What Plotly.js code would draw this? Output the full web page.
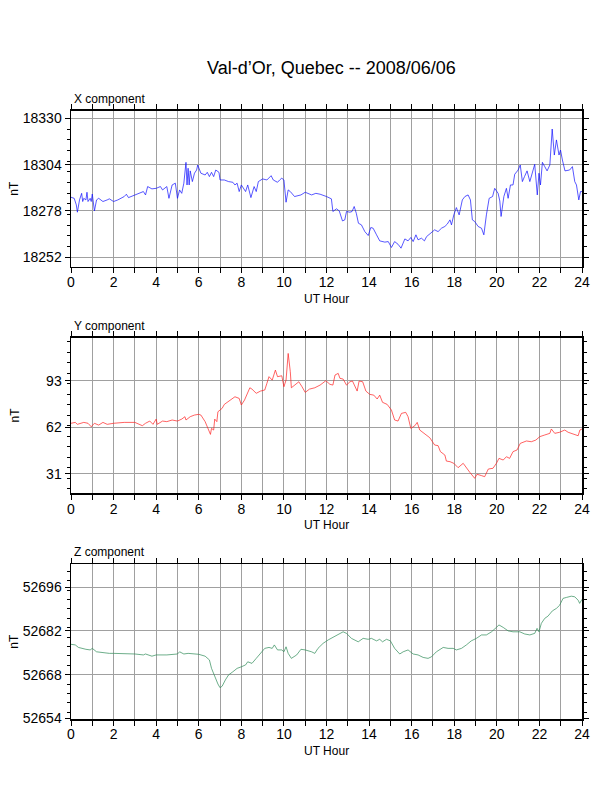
<!DOCTYPE html>
<html>
<head>
<meta charset="utf-8">
<script src="https://cdn.plot.ly/plotly-3.0.1.min.js"></script>
<style>
  body { margin: 0; background: #fff; }
  #plot { width: 612px; height: 792px; }
</style>
</head>
<body>
<div id="plot"></div>
<script>
// readings taken off the magnetogram (UT hour, nT)
const hoursX = [0.0,0.15,0.25,0.3,0.4,0.5,0.55,0.6,0.7,0.75,0.8,0.9,0.95,1.0,1.1,1.2,1.3,1.5,1.7,1.8,2.0,2.2,2.5,2.6,2.7,3.0,3.2,3.4,3.5,3.6,3.8,4.0,4.2,4.3,4.5,4.6,4.75,4.9,5.0,5.1,5.2,5.3,5.4,5.45,5.5,5.55,5.6,5.7,5.8,5.9,5.95,6.0,6.1,6.3,6.4,6.5,6.6,6.7,6.8,6.95,7.0,7.2,7.4,7.6,7.7,7.8,7.9,8.0,8.1,8.2,8.3,8.45,8.6,8.7,8.8,9.0,9.2,9.4,9.5,9.7,9.8,9.9,10.0,10.1,10.2,10.3,10.5,10.8,11.0,11.3,11.5,11.7,12.0,12.23,12.3,12.47,12.6,12.75,12.86,12.94,13.1,13.2,13.3,13.4,13.5,13.64,13.8,13.96,14.08,14.19,14.35,14.5,14.74,14.9,15.05,15.2,15.36,15.5,15.68,15.83,15.96,16.07,16.2,16.3,16.46,16.6,16.7,16.93,17.08,17.24,17.4,17.56,17.67,17.8,17.87,17.98,18.1,18.23,18.38,18.5,18.65,18.76,18.85,18.96,19.12,19.28,19.39,19.51,19.64,19.8,19.9,20.06,20.14,20.2,20.33,20.45,20.53,20.64,20.76,20.84,21.0,21.1,21.2,21.3,21.42,21.55,21.67,21.78,21.9,21.98,22.05,22.14,22.25,22.36,22.49,22.6,22.7,22.8,22.92,22.99,23.08,23.2,23.42,23.55,23.66,23.74,23.85,23.93,24.0];
const compX = [18285.7,18285.1,18281.4,18277.3,18284.2,18287.9,18283.3,18285.1,18284.2,18288.5,18283.3,18285.1,18283.3,18287.5,18278.0,18284.2,18285.1,18283.3,18284.2,18284.8,18283.3,18284.2,18286.1,18287.4,18285.5,18287.0,18287.9,18288.9,18287.0,18291.7,18290.4,18290.7,18291.7,18289.8,18291.7,18285.1,18292.6,18293.6,18285.1,18289.8,18287.9,18293.6,18305.3,18292.6,18302.0,18292.6,18300.5,18294.5,18299.2,18301.0,18303.8,18302.3,18299.2,18298.2,18299.7,18297.3,18299.7,18297.3,18301.0,18299.7,18295.4,18295.4,18294.5,18294.1,18292.6,18293.6,18288.9,18292.6,18290.4,18288.9,18292.6,18285.5,18291.7,18288.9,18294.5,18296.0,18295.4,18297.8,18295.4,18294.1,18295.4,18296.4,18295.4,18282.9,18289.8,18288.9,18286.1,18287.0,18288.5,18287.0,18287.9,18287.4,18286.1,18284.8,18277.7,18279.2,18278.0,18272.4,18273.0,18277.7,18277.3,18277.7,18280.5,18276.7,18271.1,18270.2,18266.4,18264.2,18268.7,18268.3,18264.6,18261.2,18260.5,18260.8,18257.5,18260.8,18259.3,18257.1,18262.3,18261.2,18263.1,18260.8,18264.6,18261.8,18262.7,18261.2,18263.6,18266.1,18267.4,18266.4,18268.3,18269.3,18270.6,18273.0,18270.2,18275.8,18279.9,18275.8,18284.2,18286.1,18287.0,18284.2,18273.0,18272.1,18269.3,18268.3,18264.6,18275.8,18285.1,18286.1,18290.7,18287.9,18283.6,18274.9,18286.1,18290.7,18285.1,18292.6,18292.6,18298.6,18301.0,18303.8,18294.5,18297.3,18300.5,18294.5,18299.7,18304.2,18287.0,18299.2,18292.6,18305.3,18302.9,18300.5,18303.8,18324.0,18309.4,18317.9,18309.4,18312.2,18306.6,18300.5,18301.0,18302.9,18294.5,18292.6,18284.2,18288.9,18288.9];

const hoursY = [0.0,0.2,0.3,0.5,0.6,0.8,0.95,1.1,1.3,1.5,1.7,2.0,2.5,3.0,3.2,3.35,3.5,3.7,3.85,4.0,4.05,4.3,4.5,4.75,5.0,5.2,5.35,5.4,5.6,5.8,6.0,6.1,6.3,6.45,6.55,6.6,6.7,6.75,6.85,6.9,7.1,7.2,7.35,7.5,7.7,7.9,8.0,8.15,8.3,8.4,8.5,8.7,8.9,9.1,9.2,9.3,9.45,9.6,9.7,9.9,10.0,10.1,10.2,10.3,10.35,10.5,10.7,10.85,11.0,11.2,11.45,11.7,11.97,12.16,12.3,12.4,12.55,12.63,12.78,12.94,13.1,13.22,13.33,13.44,13.53,13.7,13.85,14.03,14.22,14.38,14.5,14.63,14.85,15.05,15.2,15.36,15.52,15.72,15.83,15.96,16.15,16.26,16.38,16.6,16.85,17.08,17.24,17.35,17.56,17.63,17.8,17.98,18.18,18.42,18.57,18.73,18.96,19.07,19.28,19.43,19.6,19.82,19.98,20.1,20.3,20.45,20.6,20.76,20.95,21.1,21.39,21.62,21.83,22.02,22.25,22.49,22.56,22.72,22.95,23.19,23.35,23.5,23.66,23.82,23.9,24.0];
const compY = [64.6,65.2,63.9,64.6,65.2,64.6,62.3,64.6,63.4,65.2,63.9,64.6,65.2,65.2,63.9,63.0,64.6,66.1,63.9,67.4,63.9,66.1,65.7,66.8,66.1,67.4,69.0,66.8,69.0,70.1,70.6,70.1,65.7,61.2,57.2,61.2,60.1,67.4,65.7,72.3,74.6,77.2,78.6,80.1,82.3,81.2,76.8,80.1,84.6,88.3,87.4,84.6,86.1,86.8,91.2,95.7,93.4,100.1,95.7,96.3,89.0,93.4,111.2,99.0,88.3,90.1,92.3,89.0,85.2,87.4,88.3,90.1,93.0,90.6,90.1,96.8,97.9,94.6,94.1,90.1,92.3,92.8,89.7,86.1,92.8,92.3,86.1,83.9,83.4,80.8,83.4,78.6,77.2,73.4,66.8,66.1,71.2,71.9,69.0,61.2,63.0,65.2,60.1,57.9,55.0,50.1,49.7,45.7,43.4,39.4,39.0,37.9,35.0,37.9,34.6,31.9,27.9,30.6,29.7,29.0,34.1,34.6,37.9,41.2,40.1,42.3,41.2,45.7,46.8,51.2,52.8,52.3,53.4,55.7,56.8,57.9,60.8,57.9,58.6,60.1,58.6,57.9,56.8,56.3,60.1,60.8];

const hoursZ = [0.0,0.2,0.35,0.5,0.7,0.9,1.0,1.2,1.5,1.8,2.0,2.5,3.0,3.4,3.5,3.8,4.0,4.5,5.0,5.1,5.3,5.5,6.0,6.3,6.5,6.6,6.7,6.8,6.9,7.0,7.1,7.25,7.4,7.6,7.8,8.0,8.2,8.3,8.5,8.7,8.9,9.1,9.3,9.45,9.55,9.7,9.9,10.0,10.1,10.2,10.35,10.6,10.8,11.0,11.3,11.45,11.6,11.84,12.08,12.3,12.55,12.78,12.94,13.17,13.49,13.72,13.96,14.11,14.35,14.5,14.63,14.82,15.0,15.2,15.44,15.6,15.83,16.07,16.3,16.54,16.77,16.93,17.16,17.48,17.71,17.95,18.1,18.34,18.57,18.8,19.04,19.28,19.51,19.75,19.98,20.1,20.3,20.53,20.76,21.08,21.31,21.55,21.78,21.89,21.98,22.09,22.25,22.4,22.61,22.8,22.95,23.11,23.27,23.5,23.66,23.82,23.89,24.0];
const compZ = [52677.7,52677.5,52676.7,52676.4,52676.1,52675.9,52676.4,52675.3,52675.0,52674.8,52674.8,52674.8,52674.6,52674.3,52674.6,52673.9,52674.3,52674.3,52674.6,52675.3,52674.6,52674.8,52674.5,52673.9,52672.7,52670.0,52668.4,52666.3,52665.0,52663.8,52664.3,52666.3,52667.9,52668.9,52670.0,52670.5,52671.1,52672.1,52671.6,52673.2,52674.8,52676.4,52676.7,52676.4,52677.5,52675.9,52675.9,52675.3,52676.9,52674.8,52673.2,52674.3,52676.1,52675.9,52675.3,52674.8,52676.4,52678.0,52679.1,52679.9,52681.0,52681.7,52681.2,52679.6,52678.5,52679.6,52679.3,52679.6,52678.8,52679.3,52678.5,52679.3,52678.8,52676.4,52674.6,52675.3,52675.9,52674.6,52674.3,52673.5,52673.2,52673.7,52675.3,52676.7,52676.4,52676.4,52675.9,52676.4,52677.5,52678.8,52679.6,52680.7,52680.7,52681.7,52683.1,52683.9,52683.1,52682.0,52681.7,52681.7,52681.0,52680.7,52681.2,52682.8,52681.7,52684.4,52686.0,52686.7,52688.4,52689.2,52690.2,52692.4,52692.7,52693.1,52692.9,52691.8,52690.8,52692.1];

const panelNames = ["X component", "Y component", "Z component"];
const plotTitle = "Val-d\u2019Or, Quebec -- 2008/06/06";

const FONT = "Liberation Sans, Arial, Helvetica, sans-serif";
const GRID = "#a0a0a0";

function xAxis(anchor) {
    return {
        anchor: anchor, range: [0, 24], tick0: 0, dtick: 2,
        ticks: "outside", ticklen: 5, tickcolor: "#000", tickwidth: 1,
        ticklabelstandoff: -3,
        showgrid: true, gridcolor: GRID, gridwidth: 1,
        minor: { dtick: 1, tick0: 0, ticks: "outside", ticklen: 5, tickcolor: "#000", showgrid: true, gridcolor: GRID, gridwidth: 1 },
        showline: true, linecolor: "#000", linewidth: 1.5, mirror: "ticks",
        zeroline: false, tickfont: { family: FONT, size: 14, color: "#000" }
    };
}

function yAxis(anchor, domain, range, tick0, dtick, minorStep) {
    return {
        anchor: anchor, domain: domain, range: range, tick0: tick0, dtick: dtick,
        tickformat: "d",
        ticks: "outside", ticklen: 5, tickcolor: "#000", tickwidth: 1,
        showgrid: true, gridcolor: GRID, gridwidth: 1,
        minor: { tickmode: "linear", tick0: 0, dtick: minorStep, ticks: "outside", ticklen: 3, tickcolor: "#000", showgrid: false },
        showline: true, linecolor: "#000", linewidth: 1.5, mirror: "ticks",
        zeroline: false, tickfont: { family: FONT, size: 14, color: "#000" }
    };
}

const data = [
    { x: hoursX, y: compX, xaxis: "x", yaxis: "y", type: "scatter", mode: "lines",
      line: { color: "#1010ff", width: 0.7 }, hoverinfo: "skip" },
    { x: hoursY, y: compY, xaxis: "x2", yaxis: "y2", type: "scatter", mode: "lines",
      line: { color: "#ff2020", width: 0.7 }, hoverinfo: "skip" },
    { x: hoursZ, y: compZ, xaxis: "x3", yaxis: "y3", type: "scatter", mode: "lines",
      line: { color: "#2e8b57", width: 0.7 }, hoverinfo: "skip" }
];

const H = 792;
function dom(top, bottom) { return [1 - bottom / H, 1 - top / H]; }

const labelFont = { family: FONT, size: 12, color: "#000" };
const annotations = [
    { text: plotTitle, xref: "paper", yref: "paper", x: 0.51, y: 1 - 68 / H,
      xanchor: "center", yanchor: "middle", showarrow: false, font: { family: FONT, size: 18, color: "#000" } }
];
const panelTops = [110.7, 337.7, 564.3];
const panelBottoms = [266.7, 493.3, 719];
panelNames.forEach((name, i) => {
    annotations.push({ text: name, xref: "paper", yref: "paper", x: 0.002, y: 1 - (panelTops[i] - 12) / H,
        xanchor: "left", yanchor: "middle", showarrow: false, font: labelFont });
    annotations.push({ text: "UT Hour", xref: "paper", yref: "paper", x: 0.5, y: 1 - (panelBottoms[i] + 32) / H,
        xanchor: "center", yanchor: "middle", showarrow: false, font: labelFont });
    annotations.push({ text: "nT", xref: "paper", yref: "paper", x: (14 - 71) / 511,
        y: 1 - (panelTops[i] + panelBottoms[i]) / 2 / H, textangle: -90,
        xanchor: "center", yanchor: "middle", showarrow: false, font: labelFont });
});

const layout = {
    width: 612, height: 792,
    margin: { l: 71, r: 30, t: 0, b: 0 },
    paper_bgcolor: "#fff", plot_bgcolor: "#fff",
    showlegend: false,
    xaxis: xAxis("y"),
    xaxis2: xAxis("y2"),
    xaxis3: xAxis("y3"),
    yaxis: yAxis("x", dom(110.7, 266.7), [18246.7, 18334.3], 18330, 26, 6),
    yaxis2: yAxis("x2", dom(337.7, 493.3), [17.9, 121.7], 31, 31, 7),
    yaxis3: yAxis("x3", dom(564.3, 719), [52653.8, 52703.3], 52654, 14, 3),
    annotations: annotations
};

Plotly.newPlot("plot", data, layout, { staticPlot: true, displayModeBar: false });
</script>
</body>
</html>
